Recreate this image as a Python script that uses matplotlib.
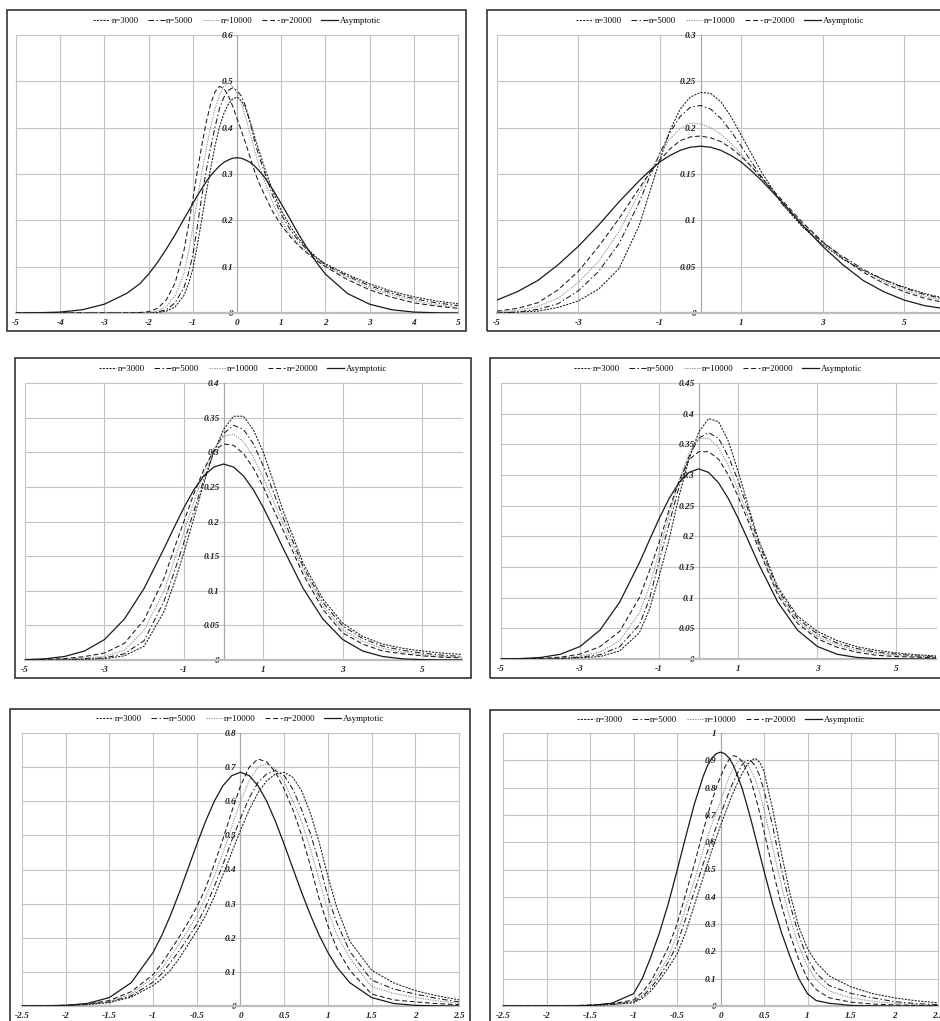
import matplotlib
matplotlib.use("Agg")
import matplotlib.pyplot as plt
from matplotlib.patches import Rectangle
from matplotlib.lines import Line2D
from matplotlib.ticker import FixedLocator, FuncFormatter

plt.rcParams['lines.scale_dashes'] = False

# ---------------- data ----------------
series_names = ["n=3000", "n=5000", "n=10000", "n=20000", "Asymptotic"]

# Panel 1 (top-left)
p1_x = [-5, -4.5, -4, -3.5, -3, -2.5, -2.2, -2, -1.8, -1.6, -1.4, -1.2, -1.1, -1, -0.9, -0.8, -0.7, -0.6,
        -0.5, -0.4, -0.3, -0.2, -0.1, 0, 0.1, 0.2, 0.3, 0.4, 0.5, 0.6, 0.8, 1, 1.2, 1.4, 1.6, 1.8, 2,
        2.5, 3, 3.5, 4, 4.5, 5]
p1_n3000 = [0, 0, 0, 0, 0, 0, 0, 0, 0.001, 0.004, 0.013, 0.038, 0.062, 0.095, 0.145, 0.20, 0.258, 0.31,
            0.36, 0.40, 0.43, 0.45, 0.462, 0.466, 0.458, 0.44, 0.412, 0.38, 0.35, 0.32, 0.265, 0.222, 0.188,
            0.16, 0.138, 0.12, 0.106, 0.083, 0.063, 0.047, 0.035, 0.026, 0.02]
p1_n5000 = [0, 0, 0, 0, 0, 0, 0, 0, 0.002, 0.007, 0.022, 0.055, 0.085, 0.125, 0.185, 0.25, 0.305, 0.355,
            0.40, 0.44, 0.465, 0.48, 0.486, 0.48, 0.468, 0.445, 0.41, 0.37, 0.338, 0.31, 0.255, 0.213, 0.18,
            0.155, 0.135, 0.118, 0.104, 0.08, 0.059, 0.043, 0.031, 0.022, 0.016]
p1_n10000 = [0, 0, 0, 0, 0, 0, 0, 0.001, 0.004, 0.014, 0.037, 0.085, 0.13, 0.185, 0.243, 0.30, 0.353, 0.40,
             0.44, 0.47, 0.489, 0.497, 0.49, 0.475, 0.452, 0.42, 0.386, 0.35, 0.318, 0.29, 0.24, 0.20, 0.17,
             0.148, 0.13, 0.115, 0.102, 0.077, 0.055, 0.039, 0.027, 0.018, 0.012]
p1_n20000 = [0, 0, 0, 0, 0, 0, 0.001, 0.003, 0.010, 0.028, 0.065, 0.135, 0.188, 0.245, 0.305, 0.36, 0.41,
             0.45, 0.477, 0.489, 0.485, 0.47, 0.447, 0.42, 0.393, 0.365, 0.335, 0.305, 0.28, 0.26, 0.22, 0.19,
             0.165, 0.145, 0.128, 0.113, 0.10, 0.072, 0.05, 0.034, 0.022, 0.015, 0.01]
p1_asym = [0.0, 0.0005, 0.002, 0.007, 0.019, 0.042, 0.063, 0.084, 0.109, 0.138, 0.169, 0.203, 0.219, 0.236,
           0.253, 0.268, 0.283, 0.296, 0.307, 0.317, 0.325, 0.33, 0.334, 0.335, 0.334, 0.33, 0.325, 0.317,
           0.307, 0.296, 0.268, 0.236, 0.203, 0.169, 0.138, 0.109, 0.084, 0.042, 0.019, 0.007, 0.002,
           0.0005, 0.0]

# Panel 2 (top-right)
p2_x = [-5, -4.5, -4, -3.5, -3, -2.5, -2, -1.5, -1.25, -1, -0.75, -0.5, -0.25, 0, 0.25, 0.5, 0.75, 1, 1.25,
        1.5, 2, 2.5, 3, 3.5, 4, 4.5, 5, 5.5, 6]
p2_n3000 = [0.0, 0.001, 0.002, 0.006, 0.013, 0.026, 0.048, 0.095, 0.13, 0.165, 0.197, 0.22, 0.233, 0.238,
            0.237, 0.228, 0.212, 0.192, 0.172, 0.152, 0.118, 0.093, 0.074, 0.058, 0.046, 0.036, 0.028,
            0.021, 0.016]
p2_n5000 = [0.0, 0.001, 0.004, 0.01, 0.024, 0.045, 0.075, 0.12, 0.147, 0.172, 0.195, 0.212, 0.222, 0.224,
            0.22, 0.21, 0.196, 0.18, 0.163, 0.147, 0.118, 0.095, 0.076, 0.061, 0.047, 0.036, 0.027, 0.02,
            0.015]
p2_n10000 = [0.001, 0.003, 0.007, 0.016, 0.033, 0.056, 0.088, 0.13, 0.152, 0.172, 0.188, 0.199, 0.205,
             0.204, 0.2, 0.193, 0.183, 0.171, 0.158, 0.145, 0.12, 0.097, 0.077, 0.06, 0.046, 0.034, 0.025,
             0.018, 0.013]
p2_n20000 = [0.002, 0.005, 0.011, 0.025, 0.045, 0.072, 0.102, 0.135, 0.151, 0.165, 0.177, 0.186, 0.19,
             0.191, 0.189, 0.185, 0.178, 0.169, 0.158, 0.146, 0.122, 0.098, 0.077, 0.059, 0.044, 0.032,
             0.023, 0.016, 0.011]
p2_asym = [0.014, 0.023, 0.035, 0.052, 0.072, 0.095, 0.12, 0.143, 0.1535, 0.163, 0.17, 0.1755, 0.1789, 0.18,
           0.1789, 0.1755, 0.17, 0.163, 0.1535, 0.143, 0.12, 0.095, 0.072, 0.052, 0.035, 0.023, 0.014,
           0.008, 0.0046]

# Panel 3 (middle-left)
p3_x = [-5, -4.5, -4, -3.5, -3, -2.5, -2, -1.5, -1.25, -1, -0.75, -0.5, -0.25, 0, 0.25, 0.5, 0.75, 1, 1.25,
        1.5, 2, 2.5, 3, 3.5, 4, 4.5, 5, 5.5, 6]
p3_n3000 = [0, 0, 0.0005, 0.001, 0.002, 0.006, 0.02, 0.07, 0.11, 0.155, 0.205, 0.255, 0.3, 0.333, 0.352, 0.352,
            0.332, 0.3, 0.258, 0.215, 0.14, 0.088, 0.053, 0.034, 0.023, 0.017, 0.013, 0.01, 0.008]
p3_n5000 = [0, 0, 0.001, 0.002, 0.003, 0.009, 0.028, 0.085, 0.126, 0.17, 0.215, 0.26, 0.3, 0.327, 0.339, 0.333,
            0.312, 0.28, 0.243, 0.205, 0.135, 0.083, 0.049, 0.031, 0.02, 0.014, 0.01, 0.007, 0.005]
p3_n10000 = [0, 0.0005, 0.001, 0.003, 0.005, 0.014, 0.043, 0.1, 0.143, 0.185, 0.228, 0.27, 0.305, 0.323, 0.326,
             0.315, 0.293, 0.263, 0.23, 0.196, 0.13, 0.078, 0.044, 0.027, 0.017, 0.011, 0.008, 0.005, 0.004]
p3_n20000 = [0, 0.001, 0.002, 0.005, 0.01, 0.024, 0.058, 0.118, 0.16, 0.2, 0.24, 0.275, 0.302, 0.312, 0.31,
             0.298, 0.277, 0.25, 0.218, 0.187, 0.124, 0.073, 0.039, 0.023, 0.013, 0.009, 0.006, 0.004, 0.003]
p3_asym = [0.0005, 0.0017, 0.0051, 0.013, 0.0295, 0.059, 0.1036, 0.161, 0.191, 0.220, 0.2457, 0.2658, 0.2786,
           0.283, 0.2786, 0.2658, 0.2457, 0.220, 0.191, 0.161, 0.1036, 0.059, 0.0295, 0.013, 0.0051, 0.0017,
           0.0005, 0.0001, 0.0]

# Panel 4 (middle-right)
p4_x = [-5, -4.5, -4, -3.5, -3, -2.5, -2, -1.5, -1.25, -1, -0.75, -0.5, -0.25, 0, 0.25, 0.5, 0.75, 1, 1.25,
        1.5, 2, 2.5, 3, 3.5, 4, 4.5, 5, 5.5, 6]
p4_n3000 = [0, 0, 0, 0.001, 0.002, 0.004, 0.013, 0.043, 0.08, 0.135, 0.195, 0.265, 0.325, 0.37, 0.392, 0.387,
            0.355, 0.305, 0.25, 0.197, 0.117, 0.07, 0.045, 0.03, 0.02, 0.014, 0.01, 0.007, 0.005]
p4_n5000 = [0, 0, 0, 0.001, 0.003, 0.007, 0.02, 0.056, 0.097, 0.16, 0.22, 0.28, 0.33, 0.36, 0.369, 0.36,
            0.33, 0.29, 0.243, 0.192, 0.113, 0.066, 0.041, 0.026, 0.017, 0.011, 0.008, 0.005, 0.004]
p4_n10000 = [0, 0, 0.0005, 0.002, 0.005, 0.011, 0.03, 0.075, 0.118, 0.175, 0.235, 0.29, 0.335, 0.36, 0.36,
             0.345, 0.315, 0.275, 0.232, 0.186, 0.108, 0.062, 0.037, 0.023, 0.014, 0.009, 0.006, 0.004, 0.003]
p4_n20000 = [0, 0.0005, 0.001, 0.003, 0.008, 0.02, 0.045, 0.1, 0.143, 0.19, 0.243, 0.29, 0.325, 0.338, 0.338,
             0.326, 0.3, 0.264, 0.225, 0.182, 0.104, 0.058, 0.033, 0.019, 0.011, 0.006, 0.004, 0.003, 0.002]
p4_asym = [0.0002, 0.0007, 0.0025, 0.0077, 0.0204, 0.0469, 0.0926, 0.157, 0.1934, 0.229, 0.2615, 0.2874,
           0.3042, 0.31, 0.3042, 0.2874, 0.2615, 0.229, 0.1934, 0.157, 0.0926, 0.0469, 0.0204, 0.0077,
           0.0025, 0.0007, 0.0002, 0.0, 0.0]

# Panel 5 (bottom-left)
p5_x = [-2.5, -2.25, -2, -1.75, -1.5, -1.25, -1, -0.9, -0.8, -0.7, -0.6, -0.5, -0.4, -0.3, -0.2, -0.1, 0,
        0.1, 0.2, 0.3, 0.4, 0.5, 0.6, 0.7, 0.8, 0.9, 1, 1.1, 1.25, 1.5, 1.75, 2, 2.25, 2.5]
p5_n3000 = [0.0, 0.0005, 0.001, 0.004, 0.01, 0.026, 0.06, 0.08, 0.105, 0.14, 0.18, 0.22, 0.265, 0.32, 0.385,
            0.45, 0.515, 0.575, 0.625, 0.66, 0.68, 0.685, 0.67, 0.63, 0.565, 0.48, 0.38, 0.29, 0.19, 0.105,
            0.068, 0.045, 0.03, 0.018]
p5_n5000 = [0.0, 0.001, 0.002, 0.005, 0.012, 0.03, 0.07, 0.095, 0.128, 0.162, 0.2, 0.24, 0.29, 0.35, 0.415,
            0.485, 0.55, 0.61, 0.655, 0.68, 0.69, 0.675, 0.635, 0.575, 0.505, 0.42, 0.32, 0.245, 0.16,
            0.076, 0.05, 0.035, 0.022, 0.012]
p5_n10000 = [0.0, 0.001, 0.002, 0.005, 0.013, 0.035, 0.083, 0.11, 0.145, 0.183, 0.222, 0.265, 0.318, 0.38,
             0.45, 0.525, 0.6, 0.66, 0.7, 0.71, 0.695, 0.655, 0.6, 0.54, 0.46, 0.37, 0.28, 0.21, 0.14,
             0.057, 0.037, 0.025, 0.015, 0.008]
p5_n20000 = [0.0, 0.001, 0.002, 0.006, 0.016, 0.042, 0.092, 0.125, 0.163, 0.203, 0.245, 0.29, 0.345, 0.415,
             0.49, 0.57, 0.645, 0.7, 0.724, 0.715, 0.685, 0.635, 0.575, 0.5, 0.41, 0.315, 0.235, 0.17,
             0.105, 0.035, 0.018, 0.012, 0.007, 0.004]
p5_asym = [0.0001, 0.0004, 0.0019, 0.0075, 0.0248, 0.0684, 0.157, 0.2074, 0.2665, 0.3325, 0.4028, 0.4737,
           0.541, 0.600, 0.6458, 0.675, 0.685, 0.675, 0.6458, 0.600, 0.541, 0.4737, 0.4028, 0.3325, 0.2665,
           0.2074, 0.157, 0.115, 0.0684, 0.0248, 0.0075, 0.0019, 0.0004, 0.0001]

# Panel 6 (bottom-right)
p6_x = [-2.5, -2.25, -2, -1.75, -1.5, -1.25, -1, -0.9, -0.8, -0.7, -0.6, -0.5, -0.4, -0.3, -0.2, -0.15, -0.1,
        -0.05, 0, 0.05, 0.1, 0.15, 0.2, 0.25, 0.3, 0.35, 0.4, 0.45, 0.5, 0.6, 0.7, 0.8, 0.9, 1, 1.1, 1.25,
        1.5, 1.75, 2, 2.25, 2.5]
p6_n3000 = [0, 0, 0.0005, 0.001, 0.002, 0.005, 0.012, 0.028, 0.055, 0.095, 0.14, 0.19, 0.27, 0.37, 0.47,
            0.52, 0.57, 0.615, 0.66, 0.703, 0.745, 0.785, 0.82, 0.853, 0.88, 0.9, 0.907, 0.893, 0.86, 0.72,
            0.56, 0.41, 0.29, 0.21, 0.16, 0.11, 0.07, 0.045, 0.03, 0.019, 0.012]
p6_n5000 = [0, 0, 0.0005, 0.001, 0.003, 0.006, 0.015, 0.035, 0.065, 0.11, 0.16, 0.225, 0.32, 0.42, 0.52,
            0.565, 0.61, 0.655, 0.7, 0.743, 0.785, 0.823, 0.855, 0.885, 0.9, 0.898, 0.88, 0.843, 0.79, 0.66,
            0.5, 0.37, 0.26, 0.175, 0.12, 0.075, 0.046, 0.03, 0.016, 0.009, 0.005]
p6_n10000 = [0, 0, 0.0005, 0.001, 0.003, 0.007, 0.018, 0.04, 0.075, 0.125, 0.18, 0.26, 0.36, 0.46, 0.57,
             0.618, 0.665, 0.708, 0.75, 0.795, 0.84, 0.872, 0.895, 0.9, 0.89, 0.865, 0.83, 0.78, 0.72, 0.58,
             0.44, 0.32, 0.22, 0.145, 0.095, 0.055, 0.03, 0.017, 0.01, 0.005, 0.002]
p6_n20000 = [0, 0, 0.0005, 0.001, 0.003, 0.008, 0.022, 0.05, 0.09, 0.15, 0.215, 0.3, 0.41, 0.52, 0.64,
             0.697, 0.75, 0.798, 0.84, 0.875, 0.903, 0.917, 0.912, 0.895, 0.865, 0.825, 0.77, 0.708, 0.64,
             0.5, 0.37, 0.26, 0.17, 0.1, 0.06, 0.03, 0.014, 0.007, 0.004, 0.002, 0.001]
p6_asym = [0.0, 0.0, 0.0, 0.0005, 0.002, 0.01, 0.045, 0.1, 0.18, 0.27, 0.375, 0.495, 0.62, 0.74, 0.84,
           0.88, 0.908, 0.924, 0.93, 0.924, 0.908, 0.88, 0.84, 0.795, 0.74, 0.682, 0.62, 0.558, 0.495,
           0.375, 0.27, 0.18, 0.1, 0.045, 0.02, 0.01, 0.002, 0.0005, 0.0, 0.0, 0.0]

# ---------------- styling ----------------
W, H = 940, 1021
SERIF = "Liberation Serif"
LINE_COLOR = "#1a1a1a"
styles = [
    dict(color=LINE_COLOR, lw=0.75, ls=(0, (1.5, 0.9))),           # n=3000
    dict(color=LINE_COLOR, lw=0.75, ls=(0, (4.0, 1.8, 1.0, 1.8))), # n=5000
    dict(color="#8c8c8c", lw=0.75, ls=(0, (0.9, 0.9))),           # n=10000
    dict(color=LINE_COLOR, lw=0.75, ls=(0, (3.5, 2.0))),           # n=20000
    dict(color=LINE_COLOR, lw=0.9, ls="-"),                        # Asymptotic
]


def frect(x0, y0, x1, y1):
    return [x0 / W, 1 - y1 / H, (x1 - x0) / W, (y1 - y0) / H]


def fmt(v, pos=None):
    s = f"{v:.2f}".rstrip("0").rstrip(".")
    if s == "-0":
        s = "0"
    return s


panels = [
    dict(border=(7, 10, 466, 331), area=(16, 35, 458, 313), legy=21, legx=237,
         x=p1_x, ys=[p1_n3000, p1_n5000, p1_n10000, p1_n20000, p1_asym],
         xlim=(-5, 5), ylim=(0, 0.6), xticks=[-5, -4, -3, -2, -1, 0, 1, 2, 3, 4, 5],
         xgrid=[-5, -4, -3, -2, -1, 1, 2, 3, 4, 5], yticks=[0, 0.1, 0.2, 0.3, 0.4, 0.5, 0.6]),
    dict(border=(487, 10, 970, 331), area=(497, 35, 944.7, 313), legy=21, legx=720,
         x=p2_x, ys=[p2_n3000, p2_n5000, p2_n10000, p2_n20000, p2_asym],
         xlim=(-5, 6), ylim=(0, 0.3), xticks=[-5, -3, -1, 1, 3, 5],
         xgrid=[-5, -3, -1, 1, 3, 5], yticks=[0, 0.05, 0.1, 0.15, 0.2, 0.25, 0.3]),
    dict(border=(15, 358, 471, 678), area=(25, 383, 462, 660), legy=369, legx=243,
         x=p3_x, ys=[p3_n3000, p3_n5000, p3_n10000, p3_n20000, p3_asym],
         xlim=(-5, 6), ylim=(0, 0.4), xticks=[-5, -3, -1, 1, 3, 5],
         xgrid=[-5, -3, -1, 1, 3, 5], yticks=[0, 0.05, 0.1, 0.15, 0.2, 0.25, 0.3, 0.35, 0.4]),
    dict(border=(490, 358, 970, 678), area=(501, 383, 936, 659), legy=369, legx=718,
         x=p4_x, ys=[p4_n3000, p4_n5000, p4_n10000, p4_n20000, p4_asym],
         xlim=(-5, 6), ylim=(0, 0.45), xticks=[-5, -3, -1, 1, 3, 5],
         xgrid=[-5, -3, -1, 1, 3, 5], yticks=[0, 0.05, 0.1, 0.15, 0.2, 0.25, 0.3, 0.35, 0.4, 0.45]),
    dict(border=(10, 709, 470, 1060), area=(22, 733, 459, 1006), legy=719, legx=240,
         x=p5_x, ys=[p5_n3000, p5_n5000, p5_n10000, p5_n20000, p5_asym],
         xlim=(-2.5, 2.5), ylim=(0, 0.8), xticks=[-2.5, -2, -1.5, -1, -0.5, 0, 0.5, 1, 1.5, 2, 2.5],
         xgrid=[-2.5, -2, -1.5, -1, -0.5, 0.5, 1, 1.5, 2, 2.5], yticks=[0, 0.1, 0.2, 0.3, 0.4, 0.5, 0.6, 0.7, 0.8]),
    dict(border=(490, 710, 970, 1060), area=(503, 733, 938, 1006), legy=720, legx=721,
         x=p6_x, ys=[p6_n3000, p6_n5000, p6_n10000, p6_n20000, p6_asym],
         xlim=(-2.5, 2.5), ylim=(0, 1.0), xticks=[-2.5, -2, -1.5, -1, -0.5, 0, 0.5, 1, 1.5, 2, 2.5],
         xgrid=[-2.5, -2, -1.5, -1, -0.5, 0.5, 1, 1.5, 2, 2.5],
         yticks=[0, 0.1, 0.2, 0.3, 0.4, 0.5, 0.6, 0.7, 0.8, 0.9, 1.0]),
]

fig = plt.figure(figsize=(W / 100, H / 100), dpi=100)
fig.patch.set_facecolor("white")

GRID = "#c4c4c4"

for p in panels:
    # outer chart border
    bx0, by0, bx1, by1 = p["border"]
    fig.add_artist(Rectangle((bx0 / W, 1 - by1 / H), (bx1 - bx0) / W, (by1 - by0) / H,
                             transform=fig.transFigure, fill=False, edgecolor="#222222",
                             lw=1.1, zorder=0))

    ax = fig.add_axes(frect(*p["area"]))
    ax.set_facecolor("none")
    ax.set_xlim(*p["xlim"])
    ax.set_ylim(*p["ylim"])

    # gridlines
    for gx in p["xgrid"]:
        ax.axvline(gx, color=GRID, lw=0.8, zorder=1, clip_on=False)
    for gy in p["yticks"][1:]:
        ax.axhline(gy, color=GRID, lw=0.8, zorder=1, clip_on=False)

    # axis lines
    for s in ("top", "right"):
        ax.spines[s].set_visible(False)
    ax.spines["left"].set_position(("data", 0))
    ax.spines["left"].set_color("#a8a8a8")
    ax.spines["left"].set_linewidth(0.9)
    ax.spines["bottom"].set_color("#bdbdbd")
    ax.spines["bottom"].set_linewidth(1.6)

    ax.xaxis.set_major_locator(FixedLocator(p["xticks"]))
    ax.yaxis.set_major_locator(FixedLocator(p["yticks"]))
    ax.xaxis.set_major_formatter(FuncFormatter(fmt))
    ax.yaxis.set_major_formatter(FuncFormatter(fmt))
    ax.tick_params(axis="both", length=0, colors="#222222")
    ax.tick_params(axis="x", pad=4)
    ax.tick_params(axis="y", pad=3)
    for lab in ax.get_xticklabels() + ax.get_yticklabels():
        lab.set_fontfamily(SERIF)
        lab.set_fontsize(6.7)
        lab.set_fontweight("bold")
        lab.set_fontstyle("italic")

    # curves
    for ys, st in zip(p["ys"], styles):
        ax.plot(p["x"], ys, color=st["color"], lw=st["lw"], linestyle=st["ls"], zorder=3,
                solid_capstyle="butt", dash_capstyle="butt", solid_joinstyle="round")

    # legend at the top of the chart area
    handles = [Line2D([], [], color=st["color"], lw=st["lw"], linestyle=st["ls"]) for st in styles]
    fig.legend(handles, series_names, loc="center", bbox_to_anchor=(p["legx"] / W, 1 - p["legy"] / H),
               ncol=5, frameon=False, prop=dict(family=SERIF, size=6.3),
               handlelength=1.95, handletextpad=0.15, columnspacing=1.05, borderpad=0.0)

fig.savefig("out.png", dpi=100, facecolor="white")
